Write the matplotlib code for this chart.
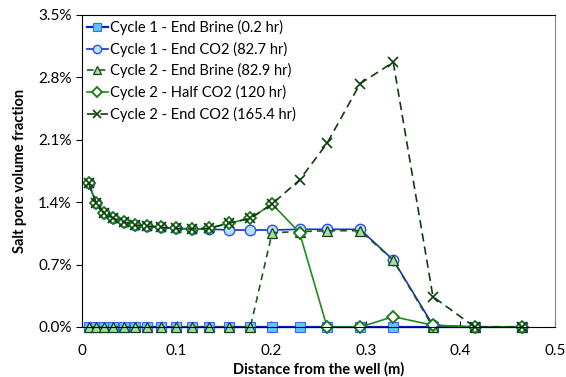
import numpy as np
import matplotlib.pyplot as plt
from matplotlib.ticker import FuncFormatter

plt.rcParams['font.family'] = ['Lato', 'DejaVu Sans']

# distance from the well (m)
dist = [0.007, 0.015, 0.023, 0.033, 0.044, 0.056, 0.069, 0.083, 0.099, 0.116, 0.134,
        0.155, 0.178, 0.201, 0.230, 0.259, 0.294, 0.329, 0.371, 0.415, 0.465]

# salt pore volume fraction (%)
c1_brine = [0.0] * 21
c1_co2 = [1.61, 1.39, 1.28, 1.22, 1.18, 1.145, 1.133, 1.118, 1.107, 1.099, 1.099,
          1.088, 1.088, 1.088, 1.096, 1.096, 1.096, 0.752, 0.02, 0.0, 0.0]
c2_brine = [0.0] * 13 + [1.058, 1.07, 1.08, 1.08, 0.75, 0.0, 0.0, 0.0]
c2_half = [1.612, 1.394, 1.283, 1.219, 1.181, 1.144, 1.133, 1.118, 1.107, 1.099, 1.107,
           1.163, 1.219, 1.38, 1.058, 0.0, 0.0, 0.116, 0.02, 0.0, 0.0]
c2_co2 = [1.612, 1.394, 1.283, 1.219, 1.181, 1.144, 1.133, 1.118, 1.107, 1.099, 1.107,
          1.163, 1.219, 1.38, 1.65, 2.06, 2.73, 2.97, 0.34, 0.0, 0.0]

labels = ['Cycle 1 - End Brine (0.2 hr)', 'Cycle 1 - End CO2 (82.7 hr)',
          'Cycle 2 - End Brine (82.9 hr)', 'Cycle 2 - Half CO2 (120 hr)',
          'Cycle 2 - End CO2 (165.4 hr)']

fig = plt.figure(figsize=(5.66, 3.77), dpi=100)
ax = fig.add_axes([82 / 566, 1 - 327 / 377, (555 - 82) / 566, (327 - 15) / 377])

ax.plot(dist, c1_brine, '-s', color='#0a1fd0', lw=1.6, ms=6.5,
        mfc='#5cc8ff', mec='#3a66ff', mew=0.8, label=labels[0], clip_on=False)
ax.plot(dist, c1_co2, '-o', color='#1a2fd0', lw=1.2, ms=7.5,
        mfc='#b8e2fa', mec='#3050e0', mew=1.0, label=labels[1], clip_on=False)
ax.plot(dist, c2_brine, '--^', color='#1c5a1c', lw=1.2, ms=7.5, dashes=(4, 3),
        mfc='#9ee09e', mec='#1a3f1a', mew=0.9, label=labels[2], clip_on=False)
ax.plot(dist, c2_half, '-D', color='#1f8a1f', lw=1.2, ms=6,
        mfc='white', mec='#137a13', mew=1.3, label=labels[3], clip_on=False)
ax.plot(dist, c2_co2, '--x', color='#0f3d0f', lw=1.2, ms=6.5, dashes=(5, 3),
        mew=1.2, label=labels[4], clip_on=False)

ax.set_xlim(0, 0.5)
ax.set_ylim(0, 3.5)
ax.set_xticks(np.arange(0, 0.51, 0.1))
ax.set_yticks(np.arange(0, 3.51, 0.7))
ax.xaxis.set_major_formatter(FuncFormatter(lambda v, p: '0' if v == 0 else '%g' % round(v, 1)))
ax.yaxis.set_major_formatter(FuncFormatter(lambda v, p: '%.1f%%' % v))
ax.tick_params(axis='x', direction='in', length=4, labelsize=11, pad=12.5)
ax.tick_params(axis='y', direction='out', length=4, labelsize=11)
for s in ['left', 'bottom', 'top']:
    ax.spines[s].set_color('black')
ax.spines['right'].set_color('#888888')

ax.set_xlabel('Distance from the well (m)', fontsize=10.5, fontweight='bold', labelpad=2.5)
ax.set_ylabel('Salt pore volume fraction', fontsize=10.5, fontweight='bold', labelpad=8)

leg = ax.legend(loc='upper left', frameon=False, fontsize=10.5, handlelength=1.4,
                handletextpad=0.2, borderpad=0.25, borderaxespad=0.1, labelspacing=0.45,
                markerscale=0.8)

fig.savefig('out.png', dpi=100)
